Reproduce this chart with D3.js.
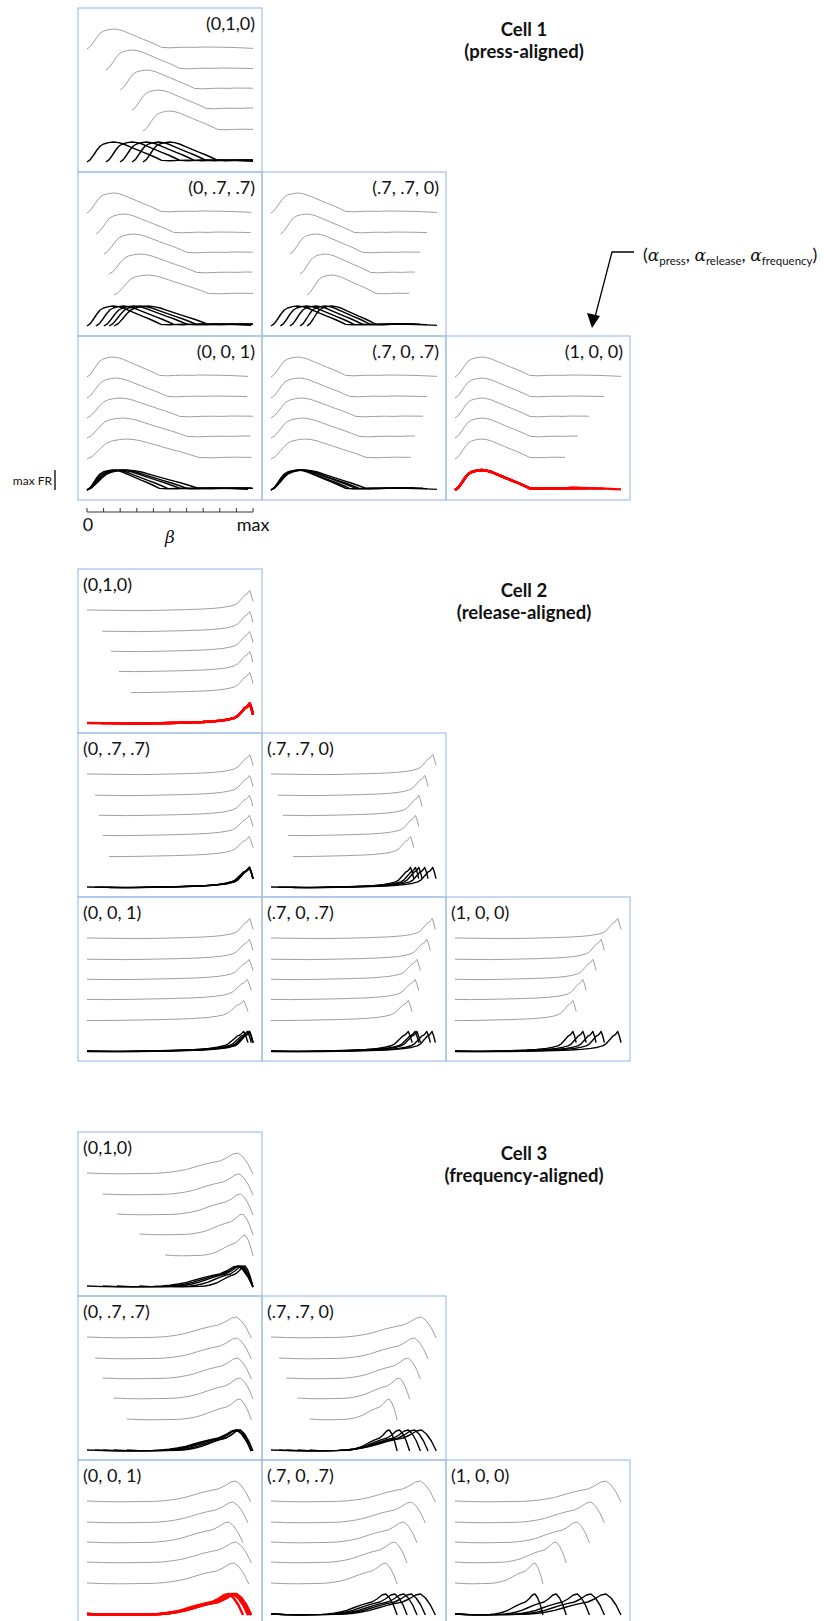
<!DOCTYPE html>
<html><head><meta charset="utf-8">
<script src="https://cdn.jsdelivr.net/npm/d3@7"></script>
<style>body{margin:0;background:#fff} svg{display:block}</style>
</head><body>
<svg id="chart" width="824" height="1621"></svg>
<script>
// ---------------- data ----------------
const panelLabels = ["(0,1,0)", "(0, .7, .7)", "(.7, .7, 0)", "(0, 0, 1)", "(.7, 0, .7)", "(1, 0, 0)"];
const cellTitles = ["Cell 1", "Cell 2", "Cell 3"];
const cellSubtitles = ["(press-aligned)", "(release-aligned)", "(frequency-aligned)"];
const cellAnchors = ["press", "release", "phase"];
const bestPanel = [5, 0, 3];   // panel whose overlay is drawn in red
const betaTicks = [0, 0.1, 0.2, 0.3, 0.4, 0.5, 0.6, 0.7, 0.8, 0.9, 1.0];
const betaTickLabels = [[0, "0"], [1, "max"]];
const legendParts = [["α", "press"], ["α", "release"], ["α", "frequency"]];

// Cell 1: firing-rate profile vs. time from press (β units)
const cell1ProfileT = [0, 0.02, 0.04, 0.06, 0.08, 0.1, 0.13, 0.16, 0.19, 0.22, 0.26, 0.3, 0.34, 0.38, 0.42, 0.45, 0.5, 0.55, 0.6, 0.65, 0.7, 0.8, 0.9, 1.0];
const cell1ProfileV = [0, 0.12, 0.35, 0.6, 0.8, 0.9, 0.97, 1.0, 0.97, 0.9, 0.76, 0.62, 0.48, 0.35, 0.2, 0.08, 0.06, 0.08, 0.09, 0.08, 0.1, 0.09, 0.07, 0.03];
const cell1Durations = [1, 0.895, 0.805, 0.735, 0.663];
const cell1Starts = [
  [0, 0.114, 0.199, 0.271, 0.337],
  [0, 0.054, 0.102, 0.133, 0.163],
  [0, 0.056, 0.114, 0.175, 0.217],
  [0, 0, 0, 0, 0],
  [0, 0, 0, 0, 0],
  [0, 0, 0, 0, 0]];
const cell1Ends = [
  [1, 1, 1, 1, 1],
  [0.99, 0.985, 1, 0.995, 1],
  [1, 0.94, 0.898, 0.867, 0.831],
  [0.97, 0.965, 1, 0.985, 0.99],
  [1, 0.94, 0.916, 0.867, 0.843],
  [1, 0.898, 0.807, 0.741, 0.663]];

// Cell 2: firing-rate profile vs. time before release (β units)
const cell2ProfileT = [0, 0.01, 0.02, 0.03, 0.04, 0.05, 0.06, 0.075, 0.09, 0.11, 0.14, 0.18, 0.24, 0.3, 0.4, 0.5, 0.6, 0.7, 0.8, 0.9, 1.0];
const cell2ProfileV = [0.42, 0.75, 0.98, 0.86, 0.78, 0.74, 0.64, 0.5, 0.36, 0.26, 0.19, 0.13, 0.08, 0.05, 0.02, 0.0, -0.02, -0.03, -0.02, -0.01, 0];
const cell2Durations = [1, 0.905, 0.852, 0.8, 0.733];
const cell2Starts = [
  [0, 0.09, 0.145, 0.193, 0.265],
  [0, 0.048, 0.072, 0.096, 0.133],
  [0, 0.042, 0.072, 0.102, 0.133],
  [0, 0, 0, 0, 0],
  [0, 0, 0, 0, 0],
  [0, 0, 0, 0, 0]];
const cell2Ends = [
  [1, 1, 1, 1, 1],
  [1, 1, 1, 1, 1],
  [0.994, 0.946, 0.91, 0.89, 0.86],
  [1, 1, 1, 0.99, 0.97],
  [0.99, 0.96, 0.9, 0.89, 0.85],
  [1, 0.9, 0.85, 0.79, 0.73]];

// Cell 3: firing-rate profile vs. phase of the trial (0..1)
const cell3ProfileT = [0, 0.1, 0.2, 0.3, 0.4, 0.45, 0.5, 0.55, 0.6, 0.65, 0.7, 0.75, 0.8, 0.84, 0.88, 0.91, 0.94, 0.97, 1.0];
const cell3ProfileV = [0, -0.03, -0.04, -0.03, -0.02, 0, 0.04, 0.1, 0.18, 0.3, 0.42, 0.52, 0.6, 0.75, 0.95, 1.0, 0.8, 0.45, -0.05];
const cell3Durations = [1, 0.905, 0.82, 0.685, 0.53];
const cell3Starts = [
  [0, 0.095, 0.18, 0.315, 0.47],
  [0, 0.048, 0.095, 0.16, 0.24],
  [0, 0.048, 0.092, 0.16, 0.233],
  [0, 0, 0, 0, 0],
  [0, 0, 0, 0, 0],
  [0, 0, 0, 0, 0]];
const cell3Ends = [
  [1, 1, 1, 1, 1],
  [0.99, 0.99, 0.99, 1, 0.99],
  [0.996, 0.946, 0.9, 0.835, 0.76],
  [0.986, 0.97, 0.94, 0.99, 0.975],
  [0.99, 0.93, 0.88, 0.82, 0.76],
  [1, 0.9, 0.81, 0.67, 0.53]];

const cells = [
  {T: cell1ProfileT, V: cell1ProfileV, dur: cell1Durations, starts: cell1Starts, ends: cell1Ends},
  {T: cell2ProfileT, V: cell2ProfileV, dur: cell2Durations, starts: cell2Starts, ends: cell2Ends},
  {T: cell3ProfileT, V: cell3ProfileV, dur: cell3Durations, starts: cell3Starts, ends: cell3Ends}
];

// ---------------- layout ----------------
const svg = d3.select("#chart");
const PW = 184, PH = 164, LEFT = 78;
const cellTops = [8, 569, 1132];
const gridPos = [[0, 0], [1, 0], [1, 1], [2, 0], [2, 1], [2, 2]];
const laneBase = [41, 62, 82, 102, 123, 154];
const BORDER = "#a3c2e8";
const FONT = "Lato, 'Open Sans', sans-serif";

const xBeta = d3.scaleLinear().domain([0, 1]).range([9, 175]);
const yFR = d3.scaleLinear().domain([0, 1]).range([0, -20]);

function traceUV(cell, anchor, i) {
  const d = cell.dur[i];
  let pts = cell.T.map((t, k) => {
    let u;
    if (anchor === "press") u = t / d;
    else if (anchor === "release") u = 1 - t / d;
    else u = t;
    return {u, v: cell.V[k]};
  }).sort((a, b) => a.u - b.u);
  const out = [];
  for (let k = 0; k < pts.length; k++) {
    const p = pts[k];
    if (p.u >= 0 && p.u <= 1) out.push(p);
    if (k < pts.length - 1) {
      const q = pts[k + 1];
      [0, 1].forEach(bd => {
        if ((p.u < bd && q.u > bd)) {
          const f = (bd - p.u) / (q.u - p.u);
          out.push({u: bd, v: p.v + f * (q.v - p.v)});
        }
      });
    }
  }
  return out.sort((a, b) => a.u - b.u);
}

cells.forEach((cell, c) => {
  const anchor = cellAnchors[c];
  const top = cellTops[c];
  panelLabels.forEach((lab, p) => {
    const [row, col] = gridPos[p];
    const px = LEFT + col * PW, py = top + row * PH;
    const g = svg.append("g").attr("transform", `translate(${px},${py})`);
    g.append("rect").attr("width", PW).attr("height", PH)
      .attr("fill", "none").attr("stroke", BORDER).attr("stroke-width", 1.2);
    const t = g.append("text").text(lab)
      .attr("y", 22).attr("font-family", FONT).attr("font-size", 18).attr("fill", "#111");
    if (c === 0) t.attr("x", PW - 7).attr("text-anchor", "end");
    else t.attr("x", 5);
    const isBest = bestPanel[c] === p;
    for (let i = 0; i < 5; i++) {
      const s = cell.starts[p][i], e = cell.ends[p][i];
      const uv = traceUV(cell, anchor, i);
      const pts = uv.map(o => ({b: s + (e - s) * o.u, v: o.v}));
      const greyLine = d3.line().x(o => xBeta(o.b)).y(o => laneBase[i] + yFR(o.v));
      g.append("path").attr("d", greyLine(pts)).attr("fill", "none")
        .attr("stroke", "#a0a0a0").attr("stroke-width", 1).attr("stroke-linejoin", "round");
      const ovLine = d3.line().x(o => xBeta(o.b)).y(o => laneBase[5] + yFR(o.v));
      g.append("path").attr("d", ovLine(pts)).attr("fill", "none")
        .attr("stroke", isBest ? "#ff0000" : "#000")
        .attr("stroke-width", isBest ? 2.4 : 1.4).attr("stroke-linejoin", "round");
    }
  });
  svg.append("text").text(cellTitles[c]).attr("x", 524).attr("y", top + 28)
    .attr("text-anchor", "middle").attr("font-family", FONT).attr("font-weight", "bold")
    .attr("font-size", 18.5).attr("fill", "#111");
  svg.append("text").text(cellSubtitles[c]).attr("x", 524).attr("y", top + 50)
    .attr("text-anchor", "middle").attr("font-family", FONT).attr("font-weight", "bold")
    .attr("font-size", 18.5).attr("fill", "#111");
});

// ---------------- max FR bar ----------------
const barBase = cellTops[0] + 2 * PH + laneBase[5];
svg.append("line").attr("x1", 55).attr("x2", 55)
  .attr("y1", barBase + yFR(0)).attr("y2", barBase + yFR(1))
  .attr("stroke", "#000").attr("stroke-width", 1.3);
svg.append("text").text("max FR").attr("x", 52).attr("y", barBase - 5)
  .attr("text-anchor", "end").attr("font-family", FONT).attr("font-size", 12).attr("fill", "#111");

// ---------------- β scale bar ----------------
const sb = svg.append("g").attr("transform", `translate(${LEFT},512)`);
sb.append("line").attr("x1", xBeta(0)).attr("x2", xBeta(1)).attr("y1", 0).attr("y2", 0)
  .attr("stroke", "#333").attr("stroke-width", 1);
sb.selectAll("line.tick").data(betaTicks).join("line").attr("class", "tick")
  .attr("x1", d => xBeta(d)).attr("x2", d => xBeta(d)).attr("y1", 0).attr("y2", -4)
  .attr("stroke", "#333").attr("stroke-width", 1);
sb.selectAll("text.tl").data(betaTickLabels).join("text").attr("class", "tl")
  .attr("x", d => xBeta(d[0]) + (d[0] === 0 ? 1 : 0))
  .attr("y", 19).attr("text-anchor", "middle")
  .attr("font-family", FONT).attr("font-size", 18).attr("fill", "#111")
  .text(d => d[1]);
sb.append("text").text("β").attr("x", xBeta(0.5)).attr("y", 31)
  .attr("text-anchor", "middle").attr("font-family", "'DejaVu Serif', serif")
  .attr("font-style", "italic").attr("font-size", 17).attr("fill", "#111");

// ---------------- legend label + arrow ----------------
const lg = svg.append("text").attr("x", 643).attr("y", 261)
  .attr("font-family", FONT).attr("font-size", 18).attr("fill", "#111");
lg.append("tspan").text("(");
legendParts.forEach((pp, k) => {
  lg.append("tspan").text(pp[0]).attr("font-style", "italic").attr("font-family", "'DejaVu Serif', serif").attr("font-size", 17);
  lg.append("tspan").text(pp[1]).attr("font-size", 11.5).attr("dy", 4);
  lg.append("tspan").text(k < 2 ? ", " : ")").attr("dy", -4);
});
svg.append("path").attr("d", "M634,252 L612,252 L595,317")
  .attr("fill", "none").attr("stroke", "#000").attr("stroke-width", 1.3);
svg.append("path").attr("d", "M592,328 L587,313 L600,316 Z").attr("fill", "#000");
</script>
</body></html>
